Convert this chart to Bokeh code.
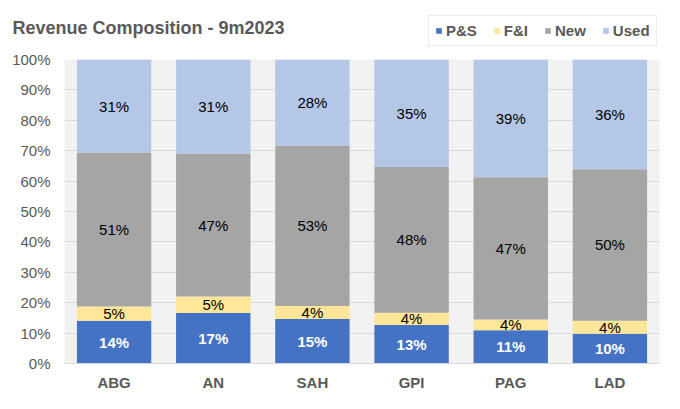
from bokeh.plotting import figure
from bokeh.layouts import column
from bokeh.models import ColumnDataSource, Legend, LegendItem, FactorRange, PrintfTickFormatter, FixedTicker
from bokeh.core.properties import value
from bokeh.embed import file_html
from bokeh.resources import INLINE

companies = ["ABG", "AN", "SAH", "GPI", "PAG", "LAD"]
ps = [14.1, 16.6, 14.6, 12.7, 10.9, 9.8]
fi = [4.65, 5.4, 4.3, 4.0, 3.6, 4.3]
new = [50.65, 47.0, 52.8, 47.9, 46.8, 49.8]
used = [30.6, 31.0, 28.3, 35.4, 38.7, 36.1]
series = ["P&S", "F&I", "New", "Used"]
colors = ["#4472C4", "#FFE699", "#A5A5A5", "#B4C7E7"]
y_ticks = list(range(0, 101, 10))
title_text = "Revenue Composition - 9m2023"

FONT = "Liberation Sans"
GRAY = "#595959"
W = 664
HEAD_H = 49

# ---------- header: title + legend ----------
head = figure(width=W, height=HEAD_H, x_range=(0, W), y_range=(0, HEAD_H),
              output_backend="svg", toolbar_location=None,
              x_axis_location=None, y_axis_location=None, frame_align=False,
              min_border=0, min_border_left=0, min_border_right=0,
              min_border_top=0, min_border_bottom=0)
head.outline_line_color = None
head.grid.grid_line_color = None
head.background_fill_color = "white"
head.border_fill_color = "white"

head.text(x=[12], y=[HEAD_H - 27], text=[title_text], text_align="left", text_baseline="alphabetic",
          text_font=value(FONT), text_font_size="18px", text_font_style="bold", text_color=GRAY)

# zero-height placeholder bars that only carry the legend swatches
dummies = [head.vbar(x=[0], top=[0], bottom=[0], width=0, color=c, line_color=None) for c in colors]
legend = Legend(items=[LegendItem(label=s, renderers=[r]) for s, r in zip(series, dummies)],
                location=(428, HEAD_H - 46), orientation="horizontal",
                border_line_color="#D9D9D9", border_line_width=1,
                background_fill_color="white", background_fill_alpha=1,
                label_text_font=FONT, label_text_font_style="bold", label_text_font_size="15px",
                label_text_color=GRAY, glyph_width=7, glyph_height=7, label_standoff=4,
                spacing=16, padding=6, margin=0, label_height=16)
head.add_layout(legend)

# ---------- main chart ----------
data = {"company": companies, "P&S": ps, "F&I": fi, "New": new, "Used": used}
src = ColumnDataSource(data)

p = figure(x_range=FactorRange(*companies, range_padding=0), y_range=(0, 100),
           width=W, height=350, output_backend="svg", toolbar_location=None, frame_align=False,
           min_border_left=64, min_border_right=5, min_border_top=10, min_border_bottom=36)

renderers = p.vbar_stack(series, x="company", width=0.75, color=colors, source=src, line_color=None)

label_x, label_y, label_t = [], [], []
label_x2, label_y2, label_t2 = [], [], []
for i, c in enumerate(companies):
    bottom = 0.0
    for s, vals in zip(series, [ps, fi, new, used]):
        v = vals[i]
        mid = bottom + v / 2
        txt = f"{v:.0f}%"
        if s == "P&S":
            label_x.append(c); label_y.append(mid); label_t.append(txt)
        else:
            label_x2.append(c); label_y2.append(mid); label_t2.append(txt)
        bottom += v

p.text(x=label_x, y=label_y, text=label_t, text_align="center", text_baseline="middle",
       text_font=value(FONT), text_font_size="15px", text_font_style="bold", text_color="white")
p.text(x=label_x2, y=label_y2, text=label_t2, text_align="center", text_baseline="middle",
       text_font=value(FONT), text_font_size="15px", text_color="black")

p.background_fill_color = "#F2F2F2"
p.border_fill_color = "white"
p.outline_line_color = None
p.xgrid.grid_line_color = None
p.ygrid.grid_line_color = "#D9D9D9"
p.ygrid.grid_line_width = 1

p.yaxis.ticker = FixedTicker(ticks=y_ticks)
p.yaxis.formatter = PrintfTickFormatter(format="%d%%")
p.yaxis.axis_line_color = None
p.yaxis.major_tick_line_color = None
p.yaxis.major_tick_out = 0
p.yaxis.major_tick_in = 0
p.yaxis.minor_tick_line_color = None
p.yaxis.major_label_standoff = 14
p.yaxis.major_label_text_font = FONT
p.yaxis.major_label_text_font_size = "15px"
p.yaxis.major_label_text_color = GRAY

p.xaxis.axis_line_color = "#D9D9D9"
p.xaxis.major_tick_line_color = None
p.xaxis.major_tick_out = 0
p.xaxis.major_tick_in = 0
p.xaxis.minor_tick_line_color = None
p.xaxis.major_label_standoff = 10
p.xaxis.major_label_text_font = FONT
p.xaxis.major_label_text_font_size = "15px"
p.xaxis.major_label_text_font_style = "bold"
p.xaxis.major_label_text_color = GRAY

layout = column(head, p, spacing=0)
open("out.html", "w").write(file_html(layout, INLINE))
